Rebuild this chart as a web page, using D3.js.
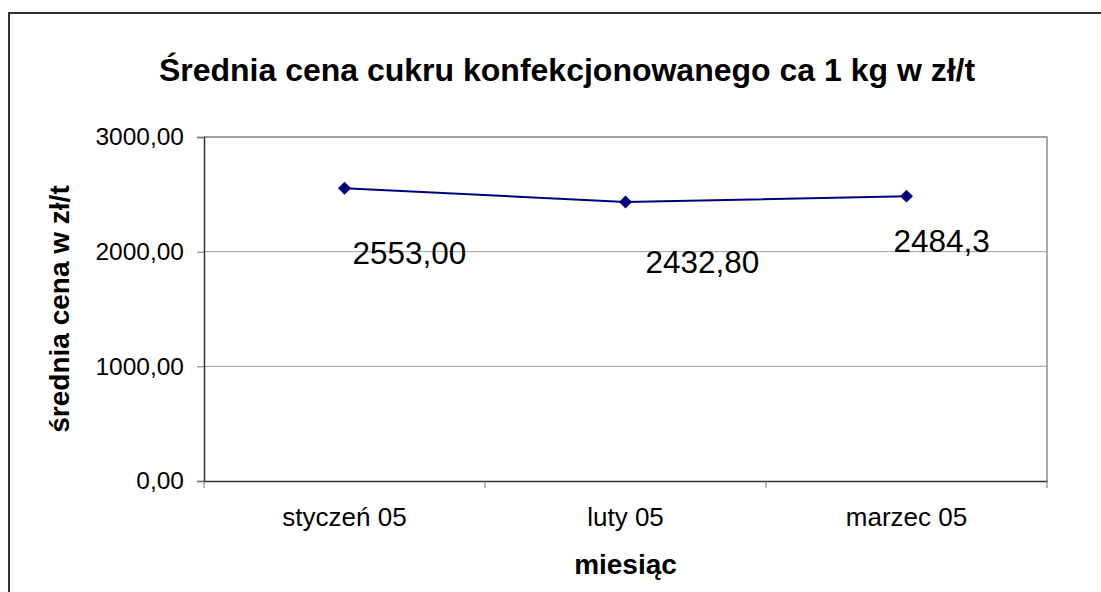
<!DOCTYPE html>
<html lang="pl">
<head>
  <meta charset="UTF-8">
  <title>Średnia cena cukru</title>
  <script src="https://d3js.org/d3.v7.min.js"></script>
  <style>
    body { margin: 0; background: #fff; font-family: "Liberation Sans", Arial, sans-serif; }
    svg { display: block; }
  </style>
</head>
<body>
  <div id="chart"></div>
  <script>
    const months = ["styczeń 05", "luty 05", "marzec 05"];
    const prices = [2553.00, 2432.80, 2484.3];
    const priceLabels = ["2553,00", "2432,80", "2484,3"];
    const yTicks = [0, 1000, 2000, 3000];
    // labels were dragged by hand in the original, so each has its own nudge
    const labelNudge = [[8, 76], [20, 71], [-13, 56]];

    const width = 1101, height = 592;
    const plot = { left: 204, right: 1047, top: 137, bottom: 481 };

    const svg = d3.select("#chart").append("svg").attr("width", width).attr("height", height);
    svg.append("rect").attr("width", width).attr("height", height).attr("fill", "#fff");

    // outer chart frame (runs off the right and bottom edges)
    svg.append("rect")
      .attr("x", 9).attr("y", 13).attr("width", 1120).attr("height", 620)
      .attr("fill", "none").attr("stroke", "#333").attr("stroke-width", 2);

    const x = d3.scaleBand().domain(months).range([plot.left, plot.right]);
    const y = d3.scaleLinear().domain([0, 3000]).range([plot.bottom, plot.top]);

    // gridlines
    svg.append("g").selectAll("line").data(yTicks.filter(d => d > 0)).join("line")
      .attr("x1", plot.left).attr("x2", plot.right)
      .attr("y1", d => y(d)).attr("y2", d => y(d))
      .attr("stroke", "#a0a0a0").attr("stroke-width", 1);

    // plot area border (top / right)
    svg.append("path")
      .attr("d", `M${plot.left},${plot.top}H${plot.right}V${plot.bottom}`)
      .attr("fill", "none").attr("stroke", "#909090").attr("stroke-width", 1.5);

    const fmt = d => d3.format(".2f")(d).replace(".", ",");

    const yAxis = svg.append("g").attr("transform", `translate(${plot.left},0)`)
      .call(d3.axisLeft(y).tickValues(yTicks).tickFormat(fmt).tickSizeOuter(0).tickSize(7).tickPadding(13));
    yAxis.select(".domain").attr("stroke", "#333").attr("stroke-width", 1.5);
    yAxis.selectAll(".tick line").attr("stroke", "#777");
    yAxis.selectAll("text").attr("font-size", 24.5).attr("font-family", "Liberation Sans, Arial, sans-serif").attr("fill", "#000");

    const xAxis = svg.append("g").attr("transform", `translate(0,${plot.bottom})`)
      .call(d3.axisBottom(x).tickSize(0).tickSizeOuter(0).tickPadding(27));
    xAxis.select(".domain").attr("stroke", "#333").attr("stroke-width", 1.5);
    xAxis.selectAll("text").attr("font-size", 26).attr("font-family", "Liberation Sans, Arial, sans-serif").attr("fill", "#000");

    // category boundary ticks
    const bounds = months.map(m => x(m)).concat([x(months[months.length - 1]) + x.bandwidth()]);
    svg.append("g").selectAll("line").data(bounds).join("line")
      .attr("x1", d => d).attr("x2", d => d)
      .attr("y1", plot.bottom).attr("y2", plot.bottom + 7)
      .attr("stroke", "#777");

    const cx = m => x(m) + x.bandwidth() / 2;
    const pts = months.map((m, i) => ({ m, v: prices[i], label: priceLabels[i], nudge: labelNudge[i] }));

    svg.append("path").datum(pts)
      .attr("d", d3.line().x(d => cx(d.m)).y(d => y(d.v)))
      .attr("fill", "none").attr("stroke", "#000080").attr("stroke-width", 2);

    svg.append("g").selectAll("path").data(pts).join("path")
      .attr("d", d3.symbol(d3.symbolSquare, 84))
      .attr("transform", d => `translate(${cx(d.m)},${y(d.v)}) rotate(45)`)
      .attr("fill", "#000080");

    svg.append("g").selectAll("text").data(pts).join("text")
      .attr("x", d => cx(d.m) + d.nudge[0])
      .attr("y", d => y(d.v) + d.nudge[1])
      .attr("font-size", 31.5).attr("fill", "#000")
      .text(d => d.label);

    // titles
    svg.append("text")
      .attr("x", (161 + 973) / 2).attr("y", 81).attr("text-anchor", "middle")
      .attr("font-size", 32).attr("font-weight", "bold")
      .text("Średnia cena cukru konfekcjonowanego ca 1 kg w zł/t");

    svg.append("text")
      .attr("x", (plot.left + plot.right) / 2).attr("y", 574).attr("text-anchor", "middle")
      .attr("font-size", 28).attr("font-weight", "bold")
      .text("miesiąc");

    svg.append("text")
      .attr("transform", `translate(69,${(plot.top + plot.bottom) / 2}) rotate(-90)`)
      .attr("text-anchor", "middle")
      .attr("font-size", 28).attr("font-weight", "bold")
      .text("średnia cena w zł/t");
  </script>
</body>
</html>
